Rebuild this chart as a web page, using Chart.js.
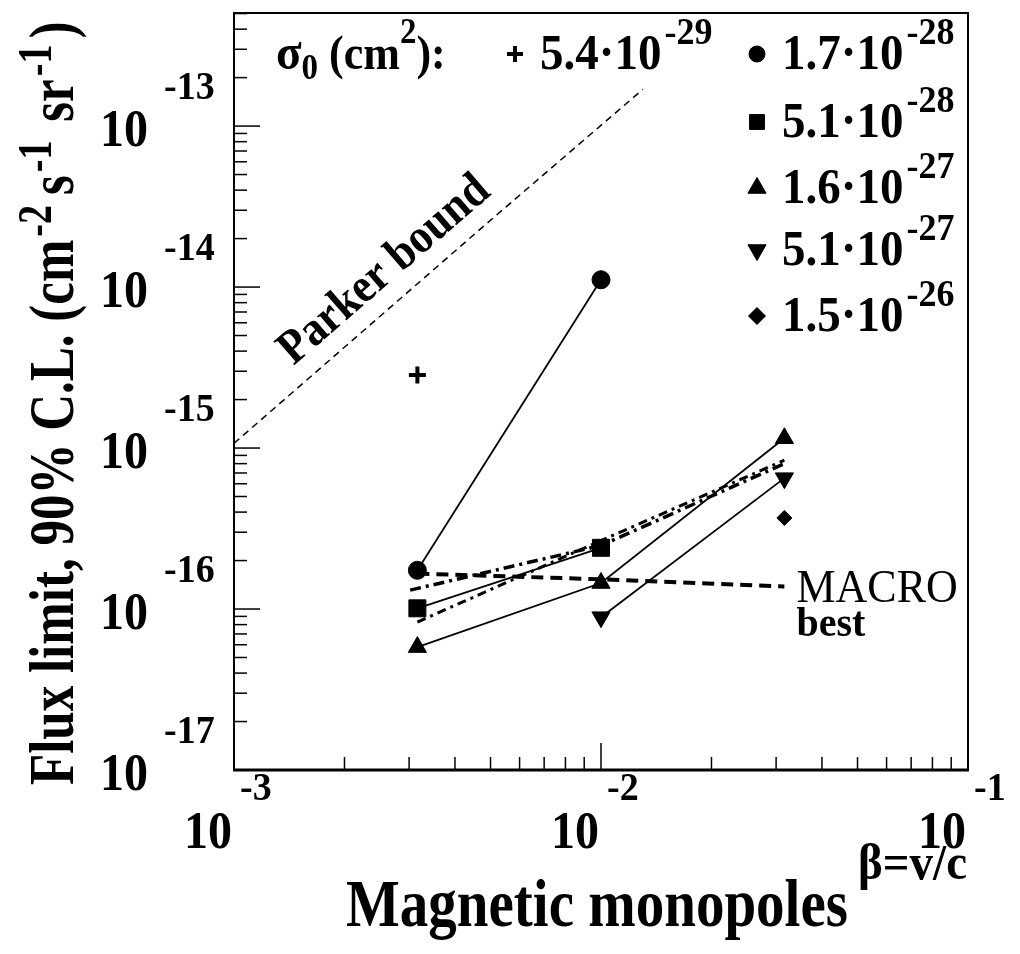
<!DOCTYPE html>
<html>
<head>
<meta charset="utf-8">
<script src="https://cdn.jsdelivr.net/npm/chart.js@4.4.1/dist/chart.umd.min.js"></script>
<style>
  html, body { margin: 0; padding: 0; background: #fff; }
  #wrap { width: 1020px; height: 954px; }
</style>
</head>
<body>
<div id="wrap"><canvas id="myChart" width="1020" height="954"></canvas></div>
<script>
// beta = v/c of the measured points
const betaValues = [0.00316, 0.01, 0.0316];

// flux limits (cm^-2 s^-1 sr^-1), one list per cross section, null = no point
const fluxPlus = [2.84e-15, null, null];
const fluxCircle = [1.74e-16, 1.11e-14, null];
const fluxSquare = [1.01e-16, 2.40e-16, null];
const fluxTriUp = [5.8e-17, 1.45e-16, 1.15e-15];
const fluxTriDown = [null, 8.9e-17, 6.5e-16];
const fluxDiamond = [null, null, 3.68e-16];

// MACRO best limit
const macroBest = [1.66e-16, 1.53e-16, 1.38e-16];

// dash-dot curves
const fitBetaA = [0.00302, 0.01, 0.0316];
const fitA = [1.31e-16, 2.48e-16, 8.0e-16];
const fitB = [8.3e-17, 2.66e-16, 8.4e-16];

// Parker bound
const parkerBeta = [0.001, 0.0048, 0.013];
const parkerFlux = [1.07e-15, 2.4e-14, 1.69e-13];

// legend: sigma_0 (cm^2)
const sigmaMantissa = ['5.4', '1.7', '5.1', '1.6', '5.1', '1.5'];
const sigmaExponent = ['-29', '-28', '-28', '-27', '-27', '-26'];

// axes
const xTickExps = [-3, -2, -1];
const yTickExps = [-17, -16, -15, -14, -13];
const xMin = 1e-3, xMax = 1e-1;
const yMin = 1e-17, yMax = 5.04e-13;

const fontFam = "'Liberation Serif', 'Times New Roman', serif";
const markerStyles = ['cross', 'circle', 'rect', 'triangle', 'triangle', 'rectRot'];
const markerRot = [0, 0, 0, 0, 180, 0];
const plotRadius = [8.5, 9, 12, 10.5, 10.5, 7.5];
const legendRadius = [8, 8, 10.5, 10.5, 10.5, 8.5];

function toPoints(xs, ys) {
    return xs.map((x, i) => ({x: x, y: ys[i]})).filter(p => p.y !== null);
}

function setFont(ctx, size, bold) {
    ctx.font = (bold ? 'bold ' : '') + size + 'px ' + fontFam;
}

// text with taller glyphs (the original font is narrow and tall)
function fillS(ctx, text, x, y, sy) {
    ctx.save();
    ctx.translate(x, y);
    ctx.scale(1, sy);
    ctx.fillText(text, 0, 0);
    ctx.restore();
}

// draws pieces of text one after another, returns end x
function drawRun(ctx, x, y, sy, pieces) {
    pieces.forEach(p => {
        setFont(ctx, p.size, p.bold !== false);
        x += (p.dx || 0);
        fillS(ctx, p.t, x, y + (p.dy || 0), sy);
        x += ctx.measureText(p.t).width;
    });
    return x;
}

function marker(ctx, i, r, x, y) {
    const opts = {pointStyle: markerStyles[i], rotation: markerRot[i], radius: r, borderWidth: i === 0 ? 4 : 1};
    ctx.lineWidth = opts.borderWidth;
    Chart.helpers.drawPoint(ctx, opts, x, y);
}

const seriesFlux = [fluxPlus, fluxCircle, fluxSquare, fluxTriUp, fluxTriDown, fluxDiamond];
const joined = [false, true, true, true, true, false];

const datasets = [
    {data: toPoints(parkerBeta, parkerFlux), showLine: true, borderColor: '#000', borderWidth: 1.5, borderDash: [7, 5], pointRadius: 0},
    {data: toPoints(betaValues, macroBest), showLine: true, borderColor: '#000', borderWidth: 4, borderDash: [12, 7], pointRadius: 0},
    {data: toPoints(fitBetaA, fitA), showLine: true, borderColor: '#000', borderWidth: 3.5, borderDash: [11, 5, 3, 5], pointRadius: 0},
    {data: toPoints(betaValues, fitB), showLine: true, borderColor: '#000', borderWidth: 3, borderDash: [9, 5, 3, 5], pointRadius: 0}
];
seriesFlux.forEach((ys, i) => {
    datasets.push({
        data: toPoints(betaValues, ys),
        showLine: joined[i],
        borderColor: '#000',
        borderWidth: 1.8,
        backgroundColor: '#000',
        pointStyle: markerStyles[i],
        rotation: markerRot[i],
        pointRadius: plotRadius[i],
        pointBorderWidth: i === 0 ? 4 : 1,
        pointBorderColor: '#000',
        pointBackgroundColor: '#000'
    });
});

const framePlugin = {
    id: 'frame',
    afterDraw(chart) {
        const ctx = chart.ctx;
        const a = chart.chartArea;
        const sx = chart.scales.x, sy = chart.scales.y;
        ctx.save();
        ctx.strokeStyle = '#000';
        ctx.fillStyle = '#000';

        // frame
        ctx.lineWidth = 2;
        ctx.strokeRect(a.left, a.top, a.right - a.left, a.bottom - a.top);
        ctx.lineWidth = 3;
        ctx.beginPath();
        ctx.moveTo(a.left - 1, a.bottom);
        ctx.lineTo(a.right + 1, a.bottom);
        ctx.stroke();

        // inward ticks
        ctx.lineWidth = 1.5;
        xTickExps.forEach(e => {
            for (let m = 1; m <= 9; m++) {
                const v = m * Math.pow(10, e);
                if (v < xMin * 0.999 || v > xMax * 1.001) continue;
                const px = sx.getPixelForValue(v);
                ctx.beginPath();
                ctx.moveTo(px, a.bottom);
                ctx.lineTo(px, a.bottom - (m === 1 ? 27 : 13));
                ctx.stroke();
            }
        });
        yTickExps.forEach(e => {
            for (let m = 1; m <= 9; m++) {
                const v = m * Math.pow(10, e);
                if (v < yMin * 0.999 || v > yMax * 1.001) continue;
                const py = sy.getPixelForValue(v);
                ctx.beginPath();
                ctx.moveTo(a.left, py);
                ctx.lineTo(a.left + (m === 1 ? 26 : 13), py);
                ctx.stroke();
            }
        });

        // tick labels
        xTickExps.forEach(e => {
            const px = sx.getPixelForValue(Math.pow(10, e));
            ctx.textAlign = 'right';
            setFont(ctx, 48, true);
            fillS(ctx, '10', px - 2, a.bottom + 78, 1.1);
            ctx.textAlign = 'left';
            setFont(ctx, 38, true);
            fillS(ctx, String(e), px + 6, a.bottom + 30, 1.08);
        });
        yTickExps.forEach(e => {
            const py = sy.getPixelForValue(Math.pow(10, e));
            ctx.textAlign = 'right';
            setFont(ctx, 48, true);
            fillS(ctx, '10', a.left - 86, py + 20, 1.08);
            ctx.textAlign = 'left';
            setFont(ctx, 38, true);
            fillS(ctx, String(e), a.left - 70, py - 27, 1.08);
        });

        // axis titles
        ctx.textAlign = 'left';
        ctx.save();
        ctx.translate(73, 785);
        ctx.rotate(-Math.PI / 2);
        drawRun(ctx, 0, 0, 1.25, [
            {t: 'Flux limit, 90% C.L. (cm', size: 51},
            {t: '-2', size: 38, dy: -22, dx: 3},
            {t: 's', size: 51, dx: 10},
            {t: '-1', size: 38, dy: -22, dx: 3},
            {t: ' sr', size: 51, dx: 6},
            {t: '-1', size: 38, dy: -22, dx: 3},
            {t: ')', size: 51, dx: 6}
        ]);
        ctx.restore();

        setFont(ctx, 57, true);
        ctx.textAlign = 'center';
        fillS(ctx, 'Magnetic monopoles', 597, 926, 1.18);
        setFont(ctx, 47, true);
        ctx.textAlign = 'right';
        fillS(ctx, '\u03b2=v/c', a.right - 1, 879, 1.08);

        // legend
        ctx.textAlign = 'left';
        const rowY = [54, 54, 122, 188, 250, 316];
        const rowX = [515, 757, 757, 757, 757, 757];
        drawRun(ctx, 276, rowY[0] + 15, 1.1, [
            {t: '\u03c3', size: 47},
            {t: '0', size: 33, dy: 10},
            {t: ' (cm', size: 44},
            {t: '2', size: 33, dy: -26},
            {t: '):', size: 44}
        ]);
        sigmaMantissa.forEach((mant, i) => {
            marker(ctx, i, legendRadius[i], rowX[i], rowY[i]);
            ctx.textAlign = 'left';
            drawRun(ctx, rowX[i] + 25, rowY[i] + 15, 1.08, [
                {t: mant + '\u00b710', size: 47},
                {t: sigmaExponent[i], size: 36, dy: -25, dx: 3}
            ]);
        });

        // Parker bound label along its line
        const p0 = {x: sx.getPixelForValue(parkerBeta[0]), y: sy.getPixelForValue(parkerFlux[0])};
        const p1 = {x: sx.getPixelForValue(parkerBeta[2]), y: sy.getPixelForValue(parkerFlux[2])};
        const ang = Math.atan2(p1.y - p0.y, p1.x - p0.x);
        const t = 0.42;
        const cx = p0.x + t * (p1.x - p0.x) + 32 * Math.sin(ang);
        const cy = p0.y + t * (p1.y - p0.y) - 32 * Math.cos(ang);
        ctx.save();
        ctx.translate(cx, cy);
        ctx.rotate(ang);
        setFont(ctx, 44, true);
        ctx.textAlign = 'center';
        ctx.textBaseline = 'middle';
        fillS(ctx, 'Parker bound', 0, 0, 1.1);
        ctx.restore();

        // MACRO best label at the end of its line
        const mx = sx.getPixelForValue(betaValues[2]) + 12;
        const my = sy.getPixelForValue(macroBest[2]);
        ctx.textAlign = 'left';
        ctx.textBaseline = 'alphabetic';
        setFont(ctx, 44, false);
        fillS(ctx, 'MACRO', mx, my + 15, 1.05);
        setFont(ctx, 40, true);
        fillS(ctx, 'best', mx, my + 49, 1.05);

        ctx.restore();
    }
};

new Chart('myChart', {
    type: 'scatter',
    data: {datasets: datasets},
    options: {
        responsive: false,
        animation: false,
        devicePixelRatio: 1,
        layout: {padding: {top: 8, right: 52, left: 0, bottom: 0}},
        plugins: {
            legend: {display: false},
            tooltip: {enabled: false}
        },
        scales: {
            x: {
                type: 'logarithmic',
                min: xMin,
                max: xMax,
                ticks: {display: false},
                grid: {display: false},
                border: {display: false},
                afterFit: s => { s.height = 184; }
            },
            y: {
                type: 'logarithmic',
                min: yMin,
                max: yMax,
                ticks: {display: false},
                grid: {display: false},
                border: {display: false},
                afterFit: s => { s.width = 234; }
            }
        }
    },
    plugins: [framePlugin]
});
</script>
</body>
</html>
